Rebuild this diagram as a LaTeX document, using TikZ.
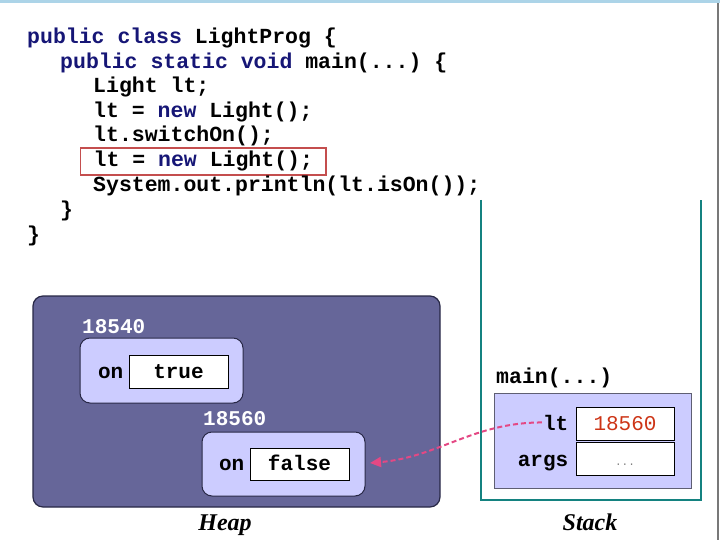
\documentclass[tikz,border=0pt]{standalone}
\usepackage{fontspec}
\setmainfont{Liberation Serif}
\setmonofont{Liberation Mono}
\usepackage{tikz}
\usetikzlibrary{positioning,arrows.meta}
\definecolor{kwnavy}{RGB}{22,22,118}
\definecolor{hlred}{RGB}{196,78,78}
\definecolor{heapfill}{RGB}{102,102,153}
\definecolor{heapedge}{RGB}{40,40,70}
\definecolor{objfill}{RGB}{204,204,255}
\definecolor{stackteal}{RGB}{20,130,128}
\definecolor{refpink}{RGB}{228,72,132}
\definecolor{valred}{RGB}{205,52,22}
\definecolor{framegray}{RGB}{95,95,115}
\definecolor{edgeblue}{RGB}{172,212,232}
\definecolor{edgegray}{RGB}{120,120,120}
\newcommand{\kwd}[1]{\textcolor{kwnavy}{#1}}
\tikzset{
  codeline/.style={anchor=base west, inner sep=0pt, font=\fontsize{21.5}{24}\ttfamily\bfseries},
  hlbox/.style={draw=hlred, line width=1.3pt, inner xsep=13pt, inner ysep=2pt,
    text height=17pt, text depth=6pt},
  heapbox/.style={draw=heapedge, fill=heapfill, rounded corners=10pt, line width=1.2pt},
  objbox/.style={draw=heapedge, fill=objfill, rounded corners=10pt, line width=1pt},
  valbox/.style={draw=black, fill=white, line width=1pt, inner sep=0pt,
    text height=15pt, text depth=2pt, font=\fontsize{21}{24}\ttfamily\bfseries},
  fieldlbl/.style={inner sep=1pt, font=\fontsize{21}{24}\ttfamily\bfseries},
  addr/.style={anchor=base west, inner sep=0pt, text=white, font=\fontsize{21}{24}\ttfamily\bfseries},
  framebox/.style={draw=framegray, fill=objfill, line width=1pt},
  stackwall/.style={draw=stackteal, line width=2.4pt},
  region/.style={text height=17pt, text depth=5pt, font=\fontsize{24}{28}\selectfont\bfseries\itshape},
  refarrow/.style={-{Triangle[length=11pt, width=10pt, fill=refpink]}, draw=refpink,
    line width=2pt, dash pattern=on 5pt off 3pt},
}
\begin{document}
\begin{tikzpicture}[x=1pt,y=-1pt]
  \useasboundingbox (0,0) rectangle (720,540);
  \fill[edgeblue] (0,0) rectangle (720,3);
  \fill[edgegray] (717,3) rectangle (719,540);

  \node (c1) [codeline] at (27,44) {\kwd{public class} LightProg \{};
  \node (c2) [codeline] at (60,69) {\kwd{public static void} main(...) \{};
  \node (c3) [codeline] at (93,93) {Light lt;};
  \node (c4) [codeline] at (93,118) {lt = \kwd{new} Light();};
  \node (c5) [codeline] at (93,142) {lt.switchOn();};
  \node (c6) [codeline, hlbox] at (80,167) {lt = \kwd{new} Light();};
  \node (c7) [codeline] at (93,192) {System.out.println(lt.isOn());};
  \node (c8) [codeline] at (60,216) {\}};
  \node (c9) [codeline] at (27,241) {\}};

  \node (heap) [heapbox, minimum width=407pt, minimum height=211pt] at (236.5,401.5) {};
  \node (obj1) [objbox, minimum width=163pt, minimum height=65pt] at (161.5,370.5) {};
  \node (obj2) [objbox, minimum width=163pt, minimum height=64pt] at (283.5,464) {};
  \node (v1) [valbox, minimum width=99pt, minimum height=33pt] at (178.5,371.5) {true};
  \node (v2) [valbox, minimum width=99pt, minimum height=32pt] at (299.5,464) {false};
  \node (on1) [fieldlbl, left=4pt of v1.base west, anchor=base east] {on};
  \node (on2) [fieldlbl, left=4pt of v2.base west, anchor=base east] {on};
  \node (a1) [addr] at (82,333) {18540};
  \node (a2) [addr] at (203,425) {18560};
  \node (heaplbl) [region] at (225,524) {Heap};

  \draw[stackwall] (481,200) -- (481,500) -- (701,500) -- (701,200);
  \node (mainlbl) [codeline] at (496,383) {main(...)};
  \node (frame) [framebox, minimum width=197pt, minimum height=95pt] at (592.5,440.5) {};
  \node (vlt) [valbox, minimum width=98pt, minimum height=33pt, text=valred,
    font=\fontsize{21}{24}\ttfamily] at (625,423.5) {18560};
  \node (vargs) [valbox, minimum width=98pt, minimum height=33pt, text=gray,
    font=\fontsize{11}{12}\ttfamily] at (625,458.5) {...};
  \node (lt) [fieldlbl, left=6pt of vlt.base west, anchor=base east] {lt};
  \node (args) [fieldlbl, left=6pt of vargs.base west, anchor=base east, yshift=-1pt] {args};
  \node (stacklbl) [region] at (590,524) {Stack};

  \coordinate (tip) at (370,463);
  \draw[refarrow] (lt.west) to[out=180, in=5] (tip);
\end{tikzpicture}
\end{document}
